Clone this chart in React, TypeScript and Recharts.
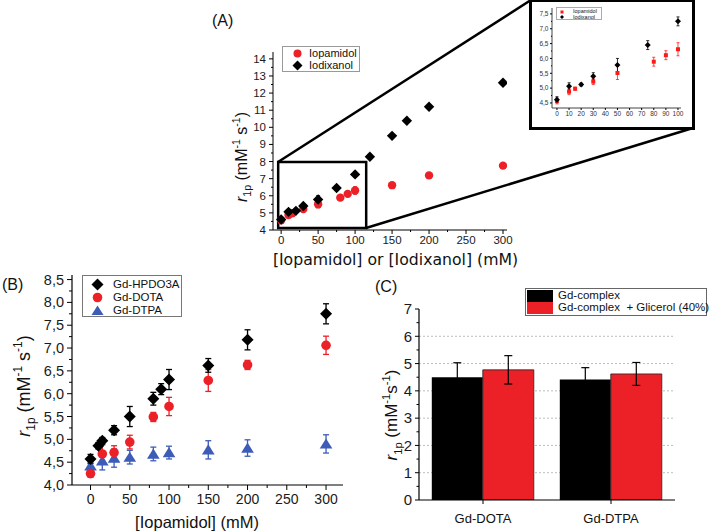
import {
  ScatterChart, Scatter, BarChart, Bar, XAxis, YAxis, ErrorBar,
  ReferenceArea, CartesianGrid,
} from 'recharts'

// ─── Panel A + inset: iopamidol / iodixanol ─────────────────────────────────
const IOPAMIDOL_CONC = [0, 10, 15, 30, 50, 80, 90, 100, 150, 200, 300]
const IOPAMIDOL_R1 = [4.57, 4.88, 4.98, 5.22, 5.51, 5.89, 6.11, 6.31, 6.62, 7.19, 7.76]
const IOPAMIDOL_ERR = [0.1, 0.1, 0.05, 0.1, 0.22, 0.15, 0.15, 0.22, 0.1, 0.12, 0.12]

const IODIXANOL_CONC = [0, 10, 20, 30, 50, 75, 100, 120, 150, 170, 200, 300]
const IODIXANOL_R1 = [4.61, 5.06, 5.12, 5.4, 5.78, 6.45, 7.25, 8.28, 9.5, 10.38, 11.2, 12.6]
const IODIXANOL_ERR = [0.1, 0.12, 0.05, 0.12, 0.22, 0.15, 0.15, 0.1, 0.1, 0.1, 0.1, 0.1]

// ─── Panel B: Gd complexes vs iopamidol ─────────────────────────────────────
const HPDO3A_CONC = [0, 10, 15, 30, 50, 80, 90, 100, 150, 200, 300]
const HPDO3A_R1 = [4.57, 4.86, 4.97, 5.2, 5.5, 5.89, 6.1, 6.31, 6.62, 7.18, 7.75]
const HPDO3A_ERR = [0.1, 0.07, 0.07, 0.1, 0.22, 0.14, 0.12, 0.22, 0.15, 0.22, 0.22]

const DOTA_CONC = [0, 15, 30, 50, 80, 100, 150, 200, 300]
const DOTA_R1 = [4.25, 4.68, 4.71, 4.94, 5.49, 5.72, 6.29, 6.63, 7.06]
const DOTA_ERR = [0.08, 0.2, 0.15, 0.15, 0.1, 0.2, 0.24, 0.1, 0.2]

const DTPA_CONC = [0, 15, 30, 50, 80, 100, 150, 200, 300]
const DTPA_R1 = [4.42, 4.53, 4.59, 4.61, 4.68, 4.71, 4.77, 4.81, 4.9]
const DTPA_ERR = [0.08, 0.2, 0.2, 0.15, 0.15, 0.14, 0.2, 0.18, 0.2]

// ─── Panel C: glycerol effect ───────────────────────────────────────────────
const C_CATEGORIES = ['Gd-DOTA', 'Gd-DTPA']
const C_COMPLEX = [4.5, 4.42]
const C_COMPLEX_ERR = [0.53, 0.43]
const C_GLYCEROL = [4.77, 4.62]
const C_GLYCEROL_ERR = [0.52, 0.42]

// ─── Ticks ──────────────────────────────────────────────────────────────────
const A_X_TICKS = [0, 50, 100, 150, 200, 250, 300]
const A_Y_TICKS = [4, 5, 6, 7, 8, 9, 10, 11, 12, 13, 14]
const INSET_X_TICKS = [0, 10, 20, 30, 40, 50, 60, 70, 80, 90, 100]
const INSET_Y_TICKS = [4.5, 5.0, 5.5, 6.0, 6.5, 7.0, 7.5]
const B_X_TICKS = [0, 50, 100, 150, 200, 250, 300]
const B_Y_TICKS = [4.0, 4.5, 5.0, 5.5, 6.0, 6.5, 7.0, 7.5, 8.0, 8.5]
const C_Y_TICKS = [0, 1, 2, 3, 4, 5, 6, 7]
const C_GRID = [1, 2, 3, 4, 5, 6]

// zoom window drawn on panel A (data units)
const ZOOM_X = [-4, 115]
const ZOOM_Y = [4.12, 7.98]

const RED = '#ec2027'
const BLUE = '#3d5cb8'
const ARIAL = '"Liberation Sans", Arial, sans-serif'
const VERDANA = '"DejaVu Sans", Verdana, sans-serif'

const pts = (xs: number[], ys: number[], es: number[]) =>
  xs.map((x, i) => ({ x, y: ys[i], e: es[i] }))

// majors plus midpoints as minor ticks
const withMinors = (major: number[]) => {
  const out: number[] = []
  major.forEach((m, i) => {
    out.push(m)
    if (i < major.length - 1) out.push((m + major[i + 1]) / 2)
  })
  return out
}

const comma = (v: number) => v.toFixed(1).replace('.', ',')

// ─── markers ────────────────────────────────────────────────────────────────
const circle = (r: number, fill: string) => (p: any) =>
  <circle cx={p.cx} cy={p.cy} r={r} fill={fill} />
const diamond = (s: number, fill: string) => (p: any) =>
  <path d={`M${p.cx},${p.cy - s}L${p.cx + s},${p.cy}L${p.cx},${p.cy + s}L${p.cx - s},${p.cy}Z`} fill={fill} />
const triangle = (s: number, fill: string) => (p: any) =>
  <path d={`M${p.cx},${p.cy - s}L${p.cx + s * 1.15},${p.cy + s * 0.85}L${p.cx - s * 1.15},${p.cy + s * 0.85}Z`} fill={fill} />
const square = (s: number, fill: string) => (p: any) =>
  <rect x={p.cx - s} y={p.cy - s} width={2 * s} height={2 * s} fill={fill} />

// ─── ticks with Origin-like minor marks ─────────────────────────────────────
type TickCfg = {
  side: 'x' | 'y'
  major: number[]
  fmt: (v: number) => string
  size: number
  len: number
  minorLen: number
  gap: number
  color?: string
}

function makeTick(c: TickCfg) {
  return (props: any) => {
    const { x, y, payload } = props
    const v = Number(payload.value)
    const isMajor = c.major.some(m => Math.abs(m - v) < 1e-6)
    const l = isMajor ? c.len : c.minorLen
    const fill = c.color ?? '#1a1a1a'
    if (c.side === 'y') {
      return (
        <g>
          <line x1={x} y1={y} x2={x - l} y2={y} stroke="#000" strokeWidth={1} />
          {isMajor && (
            <text x={x - c.len - c.gap} y={y} dy="0.35em" textAnchor="end"
              fontSize={c.size} fontFamily={ARIAL} fill={fill}>{c.fmt(v)}</text>
          )}
        </g>
      )
    }
    return (
      <g>
        <line x1={x} y1={y} x2={x} y2={y + l} stroke="#000" strokeWidth={1} />
        {isMajor && (
          <text x={x} y={y + c.len + c.gap} dy="0.72em" textAnchor="middle"
            fontSize={c.size} fontFamily={ARIAL} fill={fill}>{c.fmt(v)}</text>
        )}
      </g>
    )
  }
}

// rotated "r1p (mM-1 s-1)" title
function YTitle({ x, y, size, space = true }: { x: number; y: number; size: number; space?: boolean }) {
  const s = size * 0.66
  return (
    <text x={x} y={y} transform={`rotate(-90 ${x} ${y})`} textAnchor="middle"
      fontFamily={ARIAL} fontSize={size} fill="#111" style={{ whiteSpace: 'pre' }}>
      <tspan fontStyle="italic">r</tspan>
      <tspan fontSize={s} dy={size * 0.28}>1p</tspan>
      <tspan dy={-size * 0.28}>{' (mM'}</tspan>
      <tspan fontSize={s} dy={-size * 0.42}>-1</tspan>
      <tspan dy={size * 0.42}>{space ? ' s' : 's'}</tspan>
      <tspan fontSize={s} dy={-size * 0.42}>-1</tspan>
      <tspan dy={size * 0.42}>)</tspan>
    </text>
  )
}

function LegendRow({ left, top, marker, label, size }: {
  left: number; top: number; marker: React.ReactNode; label: string; size: number
}) {
  return (
    <div style={{ position: 'absolute', left, top, display: 'flex', alignItems: 'center', whiteSpace: 'pre' }}>
      {marker}
      <span style={{ fontFamily: ARIAL, fontSize: size, color: '#111', lineHeight: 1 }}>{label}</span>
    </div>
  )
}

const mk = (w: number, shape: React.ReactNode) => (
  <svg width={w} height={w} style={{ display: 'block' }}>{shape}</svg>
)

export default function App() {
  const iopa = pts(IOPAMIDOL_CONC, IOPAMIDOL_R1, IOPAMIDOL_ERR)
  const iodi = pts(IODIXANOL_CONC, IODIXANOL_R1, IODIXANOL_ERR)
  const iopaInset = iopa.filter(p => p.x <= 100)
  const iodiInset = iodi.filter(p => p.x <= 100)
  const cData = C_CATEGORIES.map((name, i) => ({
    name,
    complex: C_COMPLEX[i], complexErr: C_COMPLEX_ERR[i],
    glycerol: C_GLYCEROL[i], glycerolErr: C_GLYCEROL_ERR[i],
  }))

  return (
    <div style={{ position: 'absolute', left: 0, top: 0, width: 709, height: 532, background: '#fff', overflow: 'hidden' }}>
      {/* Panel A */}
      <div style={{ position: 'absolute', left: 200, top: 40 }}>
        <ScatterChart width={320} height={240} margin={{ top: 12, right: 13, left: 0, bottom: 0 }}>
          <XAxis type="number" dataKey="x" domain={[-11, 305.4]} allowDataOverflow
            ticks={withMinors(A_X_TICKS)} interval={0} height={50}
            tickSize={0} tickMargin={0} tickLine={false} axisLine={{ stroke: '#000' }}
            tick={makeTick({ side: 'x', major: A_X_TICKS, fmt: String, size: 11.5, len: 4, minorLen: 2, gap: 2 })} />
          <YAxis type="number" dataKey="y" domain={[4, 14.4]} allowDataOverflow
            ticks={withMinors(A_Y_TICKS)} interval={0} width={73}
            tickSize={0} tickMargin={0} tickLine={false} axisLine={{ stroke: '#000' }}
            tick={makeTick({ side: 'y', major: A_Y_TICKS, fmt: String, size: 11.5, len: 4, minorLen: 2, gap: 3 })} />
          <ReferenceArea x1={ZOOM_X[0]} x2={ZOOM_X[1]} y1={ZOOM_Y[0]} y2={ZOOM_Y[1]}
            fill="none" fillOpacity={0} stroke="#000" strokeWidth={2.5} ifOverflow="visible" />
          <Scatter data={iopa} shape={circle(4.2, RED)} isAnimationActive={false}>
            <ErrorBar dataKey="e" direction="y" width={2} stroke={RED} strokeWidth={1} />
          </Scatter>
          <Scatter data={iodi} shape={diamond(5.2, '#000')} isAnimationActive={false}>
            <ErrorBar dataKey="e" direction="y" width={2} stroke="#000" strokeWidth={1} />
          </Scatter>
        </ScatterChart>
      </div>

      {/* Panel A legend */}
      <div style={{ position: 'absolute', left: 282, top: 46, width: 78, height: 26, border: '1px solid #999', boxSizing: 'border-box', background: '#fff' }}>
        <LegendRow left={9} top={1} size={11} label="Iopamidol"
          marker={<span style={{ marginRight: 6 }}>{mk(11, <circle cx={5.5} cy={5.5} r={4} fill={RED} />)}</span>} />
        <LegendRow left={9} top={13} size={11} label="Iodixanol"
          marker={<span style={{ marginRight: 6 }}>{mk(11, <path d="M5.5,0.5L10.5,5.5L5.5,10.5L0.5,5.5Z" fill="#000" />)}</span>} />
      </div>

      {/* Inset frame + chart */}
      <div style={{ position: 'absolute', left: 529, top: -1, width: 166, height: 131, border: '3px solid #000', boxSizing: 'border-box', background: '#fff' }} />
      <div style={{ position: 'absolute', left: 531, top: 1 }}>
        <ScatterChart width={162} height={127} margin={{ top: 7, right: 12, left: 0, bottom: 0 }}>
          <XAxis type="number" dataKey="x" domain={[-4.1, 102.5]} allowDataOverflow
            ticks={INSET_X_TICKS} interval={0} height={20}
            tickSize={0} tickMargin={0} tickLine={false} axisLine={{ stroke: '#444' }}
            tick={makeTick({ side: 'x', major: INSET_X_TICKS, fmt: String, size: 6.5, len: 2, minorLen: 1, gap: 1.5, color: '#333' })} />
          <YAxis type="number" dataKey="y" domain={[4.33, 7.7]} allowDataOverflow
            ticks={withMinors(INSET_Y_TICKS)} interval={0} width={21}
            tickSize={0} tickMargin={0} tickLine={false} axisLine={{ stroke: '#444' }}
            tick={makeTick({ side: 'y', major: INSET_Y_TICKS, fmt: comma, size: 6.5, len: 2, minorLen: 1, gap: 1.5, color: '#333' })} />
          <Scatter data={iopaInset} shape={square(2, '#ff1a1a')} isAnimationActive={false}>
            <ErrorBar dataKey="e" direction="y" width={1.5} stroke="#ff1a1a" strokeWidth={0.8} />
          </Scatter>
          <Scatter data={iodiInset} shape={diamond(3, '#000')} isAnimationActive={false}>
            <ErrorBar dataKey="e" direction="y" width={1.5} stroke="#000" strokeWidth={0.8} />
          </Scatter>
        </ScatterChart>
      </div>
      <div style={{ position: 'absolute', left: 556, top: 7, width: 46, height: 13, border: '0.5px solid #aaa', boxSizing: 'border-box', background: '#fff' }}>
        <LegendRow left={3} top={1} size={5.5} label="Iopamidol"
          marker={<span style={{ marginRight: 9 }}>{mk(4, <rect x={0.5} y={0.5} width={3} height={3} fill="#ff1a1a" />)}</span>} />
        <LegendRow left={3} top={6.5} size={5.5} label="Iodixanol"
          marker={<span style={{ marginRight: 9 }}>{mk(4, <path d="M2,0L4,2L2,4L0,2Z" fill="#000" />)}</span>} />
      </div>

      {/* Panel B */}
      <div style={{ position: 'absolute', left: 0, top: 262 }}>
        <ScatterChart width={355} height={270} margin={{ top: 13, right: 12, left: 0, bottom: 0 }}>
          <XAxis type="number" dataKey="x" domain={[-23.6, 321.6]} allowDataOverflow
            ticks={withMinors(B_X_TICKS)} interval={0} height={47}
            tickSize={0} tickMargin={0} tickLine={false} axisLine={{ stroke: '#000', strokeWidth: 1.2 }}
            tick={makeTick({ side: 'x', major: B_X_TICKS, fmt: String, size: 14, len: 5, minorLen: 3, gap: 4 })} />
          <YAxis type="number" dataKey="y" domain={[4.0, 8.6]} allowDataOverflow
            ticks={withMinors(B_Y_TICKS)} interval={0} width={72}
            tickSize={0} tickMargin={0} tickLine={false} axisLine={{ stroke: '#000', strokeWidth: 1.2 }}
            tick={makeTick({ side: 'y', major: B_Y_TICKS, fmt: comma, size: 14.5, len: 5, minorLen: 3, gap: 3 })} />
          <Scatter data={pts(DTPA_CONC, DTPA_R1, DTPA_ERR)} shape={triangle(5.5, BLUE)} isAnimationActive={false}>
            <ErrorBar dataKey="e" direction="y" width={3} stroke={BLUE} strokeWidth={1.3} />
          </Scatter>
          <Scatter data={pts(DOTA_CONC, DOTA_R1, DOTA_ERR)} shape={circle(4.8, RED)} isAnimationActive={false}>
            <ErrorBar dataKey="e" direction="y" width={3} stroke={RED} strokeWidth={1.3} />
          </Scatter>
          <Scatter data={pts(HPDO3A_CONC, HPDO3A_R1, HPDO3A_ERR)} shape={diamond(6, '#000')} isAnimationActive={false}>
            <ErrorBar dataKey="e" direction="y" width={3} stroke="#000" strokeWidth={1.3} />
          </Scatter>
        </ScatterChart>
      </div>
      <div style={{ position: 'absolute', left: 82, top: 275, width: 100, height: 42, border: '1px solid #777', boxSizing: 'border-box', background: '#fff' }}>
        <LegendRow left={8} top={2} size={11.5} label="Gd-HPDO3A"
          marker={<span style={{ marginRight: 9 }}>{mk(13, <path d="M6.5,0.5L12.5,6.5L6.5,12.5L0.5,6.5Z" fill="#000" />)}</span>} />
        <LegendRow left={8} top={15} size={11.5} label="Gd-DOTA"
          marker={<span style={{ marginRight: 9 }}>{mk(13, <circle cx={6.5} cy={6.5} r={4.8} fill={RED} />)}</span>} />
        <LegendRow left={8} top={28} size={11.5} label="Gd-DTPA"
          marker={<span style={{ marginRight: 9 }}>{mk(13, <path d="M6.5,1.5L12.5,11L0.5,11Z" fill={BLUE} />)}</span>} />
      </div>

      {/* Panel C */}
      <div style={{ position: 'absolute', left: 360, top: 290 }}>
        <BarChart width={349} height={242} data={cData} margin={{ top: 19, right: 34, left: 0, bottom: 0 }}
          barCategoryGap="10%" barGap={0}>
          <CartesianGrid vertical={false} stroke="#bdbdbd" strokeDasharray="2 2"
            horizontalCoordinatesGenerator={({ yAxis, offset }: any) =>
              C_GRID.map(v => (yAxis && typeof yAxis.scale === 'function'
                ? yAxis.scale(v)
                : offset.top + offset.height * (1 - v / 7)))} />
          <XAxis dataKey="name" height={32} tickSize={4} tickMargin={10}
            tickLine={{ stroke: '#000' }} axisLine={{ stroke: '#000', strokeWidth: 1.2 }}
            tick={{ fontSize: 13, fontFamily: ARIAL, fill: '#111' }} />
          <YAxis type="number" domain={[0, 7]} allowDataOverflow
            ticks={withMinors(C_Y_TICKS)} interval={0} width={59}
            tickSize={0} tickMargin={0} tickLine={false} axisLine={{ stroke: '#000', strokeWidth: 1.2 }}
            tick={makeTick({ side: 'y', major: C_Y_TICKS, fmt: String, size: 15, len: 4, minorLen: 2.5, gap: 3 })} />
          <Bar dataKey="complex" fill="#000" isAnimationActive={false}>
            <ErrorBar dataKey="complexErr" direction="y" width={4} stroke="#000" strokeWidth={1.2} />
          </Bar>
          <Bar dataKey="glycerol" fill={RED} stroke="#222" strokeWidth={0.8} isAnimationActive={false}>
            <ErrorBar dataKey="glycerolErr" direction="y" width={4} stroke="#000" strokeWidth={1.2} />
          </Bar>
        </BarChart>
      </div>
      <div style={{ position: 'absolute', left: 525, top: 288, width: 182, height: 28, border: '1px solid #666', boxSizing: 'border-box', background: '#fff' }}>
        <LegendRow left={1} top={1} size={11.5} label="Gd-complex"
          marker={<span style={{ width: 26, height: 12, background: '#000', marginRight: 5, display: 'inline-block' }} />} />
        <LegendRow left={1} top={13} size={11.5} label="Gd-complex  + Glicerol (40%)"
          marker={<span style={{ width: 26, height: 12, background: RED, marginRight: 5, display: 'inline-block' }} />} />
      </div>

      {/* annotations: panel letters, axis titles, zoom connectors */}
      <svg width={709} height={532} style={{ position: 'absolute', left: 0, top: 0, pointerEvents: 'none' }}>
        <line x1={278} y1={162} x2={531} y2={0} stroke="#000" strokeWidth={2.5} />
        <line x1={366} y1={228} x2={693} y2={128} stroke="#000" strokeWidth={2.5} />
        <text x={212} y={26} fontFamily={ARIAL} fontSize={16} fill="#111">(A)</text>
        <text x={2} y={290} fontFamily={ARIAL} fontSize={16} fill="#111">(B)</text>
        <text x={375} y={292} fontFamily={ARIAL} fontSize={16} fill="#111">(C)</text>
        <text x={395.5} y={265} textAnchor="middle" fontFamily={VERDANA} fontSize={15.7} fill="#111">
          [Iopamidol] or [Iodixanol] (mM)
        </text>
        <text x={197} y={528} textAnchor="middle" fontFamily={ARIAL} fontSize={16.5} fill="#111">
          [Iopamidol] (mM)
        </text>
        <YTitle x={247} y={157} size={16} />
        <YTitle x={30} y={386} size={18} />
        <YTitle x={397} y={415} size={17} space={false} />
      </svg>
    </div>
  )
}
